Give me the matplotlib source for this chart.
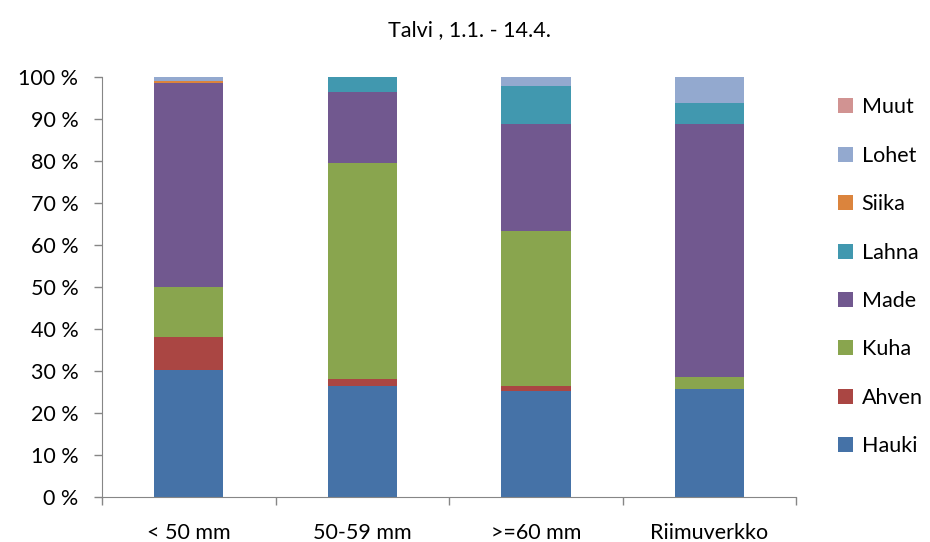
import numpy as np
from matplotlib import pyplot as plt
from matplotlib.ticker import FuncFormatter

plt.rcParams['font.family'] = ['Lato', 'DejaVu Sans']

categories = ['< 50 mm', '50-59 mm', '>=60 mm', 'Riimuverkko']
species = ['Hauki', 'Ahven', 'Kuha', 'Made', 'Lahna', 'Siika', 'Lohet', 'Muut']

# osuudet prosentteina, alhaalta ylos
hauki = [30.2, 26.5, 25.2, 25.6]
ahven = [7.9, 1.5, 1.3, 0.0]
kuha = [11.9, 51.4, 36.9, 3.0]
made = [48.6, 17.1, 25.4, 60.2]
lahna = [0.0, 3.5, 9.0, 5.0]
siika = [0.4, 0.0, 0.0, 0.0]
lohet = [1.0, 0.0, 2.2, 6.2]
muut = [0.0, 0.0, 0.0, 0.0]

colors = ['#4572A7', '#AA4643', '#89A54E', '#71588F',
          '#4198AF', '#DB843D', '#93A9CF', '#D19392']

series = [hauki, ahven, kuha, made, lahna, siika, lohet, muut]

fig = plt.figure(figsize=(9.3, 5.42), dpi=100)
ax = fig.add_axes([0.1097, 0.083, 0.7463, 0.775])

x = np.arange(len(categories))
bottom = np.zeros(len(categories))
handles = []
for name, vals, col in zip(species, series, colors):
    b = ax.bar(x, vals, 0.4, bottom=bottom, color=col, label=name, linewidth=0)
    handles.append(b)
    bottom += np.array(vals)

ax.set_xlim(-0.5, len(categories) - 0.5)
ax.set_ylim(0, 100)
ax.set_yticks(np.arange(0, 101, 10))
ax.yaxis.set_major_formatter(FuncFormatter(lambda v, p: '%d %%' % v))

ax.set_xticks(x)
ax.set_xticklabels(categories)
ax.set_xticks(np.arange(-0.5, len(categories), 1), minor=True)
ax.tick_params(axis='x', which='major', length=0, pad=19, labelsize=15.5, colors='#000000')
ax.tick_params(axis='x', which='minor', length=6, width=1, color='#868686', direction='out')
ax.tick_params(axis='y', length=6, width=1, color='#868686', pad=11, labelsize=15.5)

for s in ['top', 'right']:
    ax.spines[s].set_visible(False)
for s in ['left', 'bottom']:
    ax.spines[s].set_color('#868686')

fig.text(0.505, 0.945, 'Talvi , 1.1. - 14.4.', ha='center', va='center', fontsize=15.5)

leg = ax.legend(handles[::-1], species[::-1], loc='upper left',
                bbox_to_anchor=(1.048, 0.972), frameon=False, fontsize=15.5,
                handlelength=0.7, handleheight=0.7, handletextpad=0.4,
                labelspacing=1.32, borderaxespad=0)

fig.savefig('out.png', dpi=100)
